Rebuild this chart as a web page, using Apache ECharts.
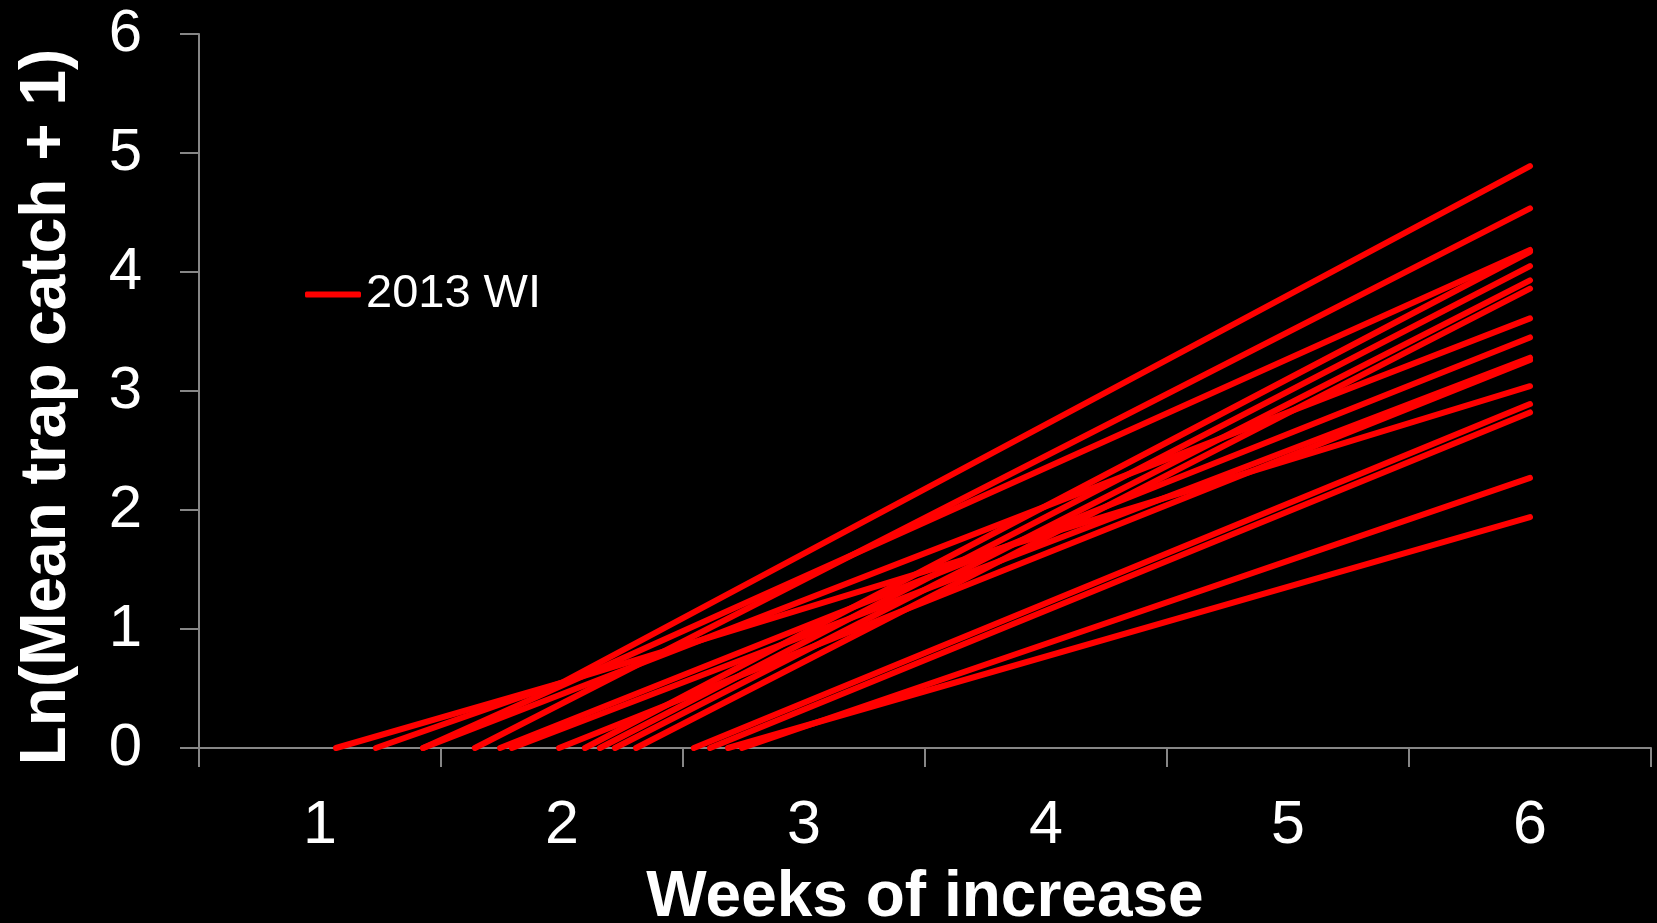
<!DOCTYPE html>
<html>
<head>
<meta charset="utf-8">
<script src="https://cdn.jsdelivr.net/npm/echarts@6/dist/echarts.min.js"></script>
<style>
html,body{margin:0;padding:0;background:#000;}
#chart{width:1657px;height:923px;}
</style>
</head>
<body>
<div id="chart"></div>
<script>
// ---- data ----
const weekLabels = ['1', '2', '3', '4', '5', '6'];
const seriesName = '2013 WI';
const xTitle = 'Weeks of increase';
const yTitle = 'Ln(Mean trap catch + 1)';
// each line: [week, Ln(mean trap catch + 1)]
const line01 = [[1.066, 0], [2, 0.55], [6, 4.89]];
const line02 = [[1.231, 0], [2, 0.55], [6, 3.04]];
const line03 = [[1.426, 0], [6, 4.185]];
const line04 = [[1.640, 0], [6, 4.535]];
const line05 = [[1.426, 0], [6, 3.61]];
const line06 = [[1.744, 0], [6, 3.45]];
const line07 = [[1.793, 0], [6, 3.28]];
const line08 = [[1.988, 0], [6, 3.26]];
const line09 = [[2.095, 0], [6, 4.17]];
const line10 = [[2.157, 0], [6, 4.05]];
const line11 = [[2.219, 0], [6, 3.93]];
const line12 = [[2.306, 0], [6, 3.86]];
const line13 = [[2.545, 0], [6, 2.89]];
const line14 = [[2.612, 0], [6, 2.82]];
const line15 = [[2.686, 0], [6, 1.94]];
const line16 = [[2.744, 0], [6, 2.27]];
const allLines = [line01, line02, line03, line04, line05, line06, line07, line08,
                  line09, line10, line11, line12, line13, line14, line15, line16];

// ---- chart ----
const axisGray = '#868686';
const font = 'Liberation Sans, Arial, sans-serif';
const chart = echarts.init(document.getElementById('chart'), null, { renderer: 'canvas' });
chart.setOption({
  backgroundColor: '#000000',
  animation: false,
  grid: { left: 199, right: 6, top: 34, bottom: 175, containLabel: false, outerBoundsMode: 'none' },
  legend: {
    show: true,
    left: 305,
    top: 271,
    padding: 0,
    icon: 'roundRect',
    itemWidth: 56,
    itemHeight: 6,
    data: [seriesName],
    textStyle: { color: '#ffffff', fontSize: 47, fontFamily: font, lineHeight: 47 }
  },
  xAxis: [
    {
      type: 'category',
      data: weekLabels,
      boundaryGap: true,
      position: 'bottom',
      axisLine: { show: true, lineStyle: { color: axisGray, width: 2 } },
      axisTick: { show: true, length: 19, lineStyle: { color: axisGray, width: 2 } },
      axisLabel: { color: '#ffffff', fontSize: 61, fontFamily: font, margin: 48 },
      splitLine: { show: false },
      name: xTitle,
      nameLocation: 'middle',
      nameGap: 118,
      nameTextStyle: { color: '#ffffff', fontSize: 64, fontWeight: 'bold', fontFamily: font }
    },
    { type: 'value', min: 0.5, max: 6.5, show: false }
  ],
  yAxis: {
    type: 'value',
    min: 0,
    max: 6,
    interval: 1,
    axisLine: { show: true, lineStyle: { color: axisGray, width: 2 } },
    axisTick: { show: true, length: 19, lineStyle: { color: axisGray, width: 2 } },
    axisLabel: { color: '#ffffff', fontSize: 60, fontFamily: font, margin: 57 },
    splitLine: { show: false },
    name: yTitle,
    nameLocation: 'middle',
    nameRotate: 90,
    nameGap: 120,
    nameTextStyle: { color: '#ffffff', fontSize: 64, fontWeight: 'bold', fontFamily: font, padding: [0, 32, 0, 0] }
  },
  series: allLines.map(function (d) {
    return {
      type: 'line',
      name: seriesName,
      xAxisIndex: 1,
      data: d,
      symbol: 'none',
      silent: true,
      color: '#ff0000',
      lineStyle: { color: '#ff0000', width: 6, cap: 'round', join: 'round' }
    };
  })
});
</script>
</body>
</html>
